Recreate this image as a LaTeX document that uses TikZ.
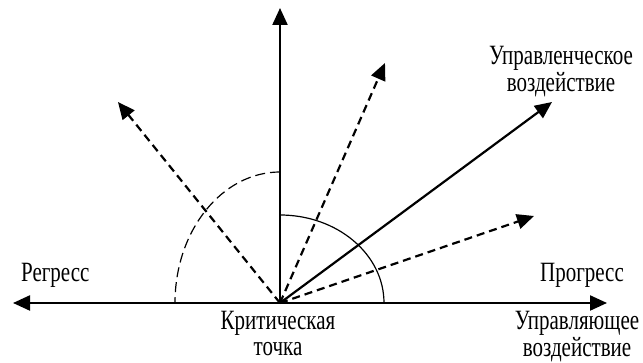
\documentclass[tikz,border=0pt]{standalone}
\usepackage{graphicx}
\usepackage{fontspec}
\setmainfont{Liberation Serif}
\usetikzlibrary{arrows.meta}
% labels in the reference are stretched upwards
\newcommand{\tall}[1]{\scalebox{1}[1.33]{\begin{tabular}[t]{@{}c@{}}#1\end{tabular}}}

\begin{document}
\begin{tikzpicture}[x=1pt,y=1pt,line width=2.2pt,
  >={Triangle[length=17pt,width=15pt]},
  font=\fontsize{21}{19}\selectfont,
  dvec/.style={->,dash pattern=on 8pt off 5pt},
  lbl/.style={inner sep=0pt,anchor=base}]
\useasboundingbox (0,0) rectangle (643,363);
% critical point and arrow ends
\coordinate (O) at (280,60);
\coordinate (L) at (13,60);
\coordinate (R) at (607,60);
\coordinate (T) at (280,355);
\coordinate (A) at (552,261);
\coordinate (D1) at (118,261);
\coordinate (D2) at (385,300);
\coordinate (D3) at (534,147);
% axes
\draw[<->] (L) -- (R);
\draw[->] (O) -- (T);
% solid and dashed vectors
\draw[->] (O) -- (A);
\draw[dvec] (O) -- (D1);
\draw[dvec] (O) -- (D2);
\draw[dvec] (O) -- (D3);
% arcs
\draw[line width=1.2pt] (O) ++(104,0) arc[start angle=0,end angle=90,x radius=104,y radius=88];
\draw[line width=1.2pt,dash pattern=on 10pt off 5pt] (O) ++(0,131) arc[start angle=90,end angle=180,x radius=105,y radius=131];
% labels
\node[lbl,anchor=base west] (reg) at (20,81) {\tall{Регресс}};
\node[lbl,anchor=base east] (prog) at (625,81) {\tall{Прогресс}};
\node[lbl] (krit) at (278,33) {\tall{Критическая\\точка}};
\node[lbl] (upr) at (577,33) {\tall{Управляющее\\воздействие}};
\node[lbl] (uprl) at (561,298) {\tall{Управленческое\\воздействие}};
\end{tikzpicture}
\end{document}
